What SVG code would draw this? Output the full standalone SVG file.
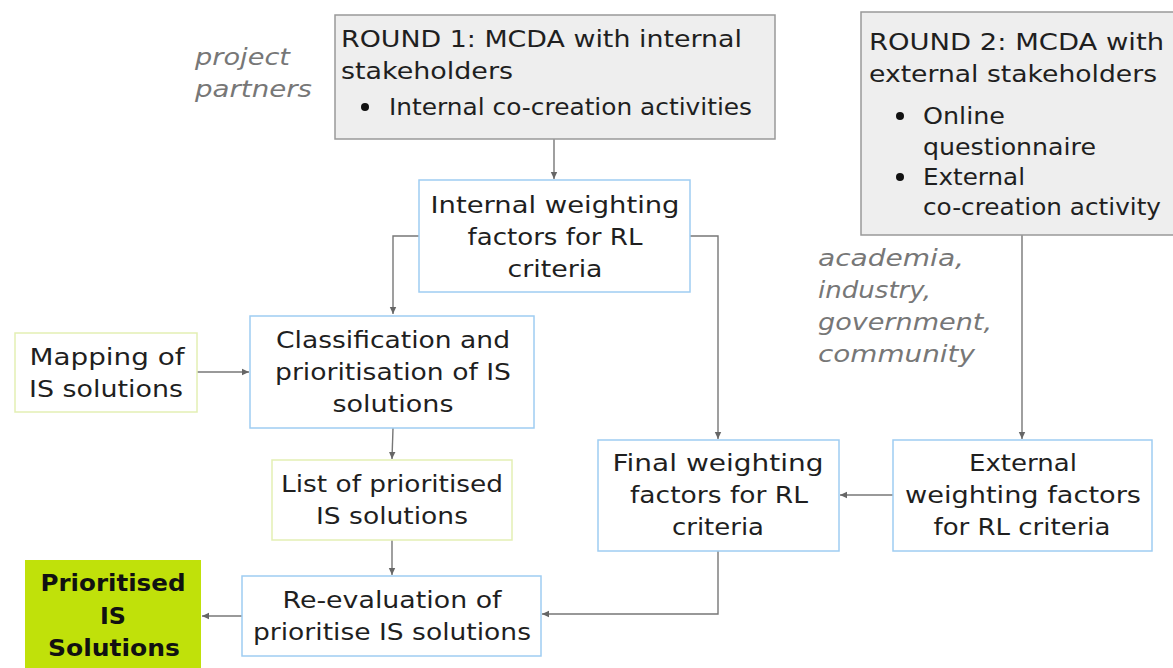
<svg xmlns="http://www.w3.org/2000/svg" width="1173" height="668" viewBox="0 0 1173 668">
<defs>
<marker id="ah" markerWidth="8" markerHeight="8" refX="7" refY="4" orient="auto" markerUnits="userSpaceOnUse">
<path d="M0,0.8 L7,4 L0,7.2 Z" fill="#666"/>
</marker>
<style>
text{font-family:"DejaVu Sans","Liberation Sans",sans-serif;font-size:23.5px;fill:#1f1f1f}
.c{text-anchor:middle}
.it{font-style:italic;fill:#777}
.b{font-weight:bold;fill:#111}
.grey{fill:#eeeeee;stroke:#999;stroke-width:1.5}
.blue{fill:#fff;stroke:#9fcdf2;stroke-width:1.5}
.yg{fill:#fff;stroke:#e3efb4;stroke-width:1.5}
.conn{fill:none;stroke:#777;stroke-width:1.4;marker-end:url(#ah)}
</style>
</defs>
<rect width="1173" height="668" fill="#fff"/>
<g id="label-partners">
<text class="it" x="195" y="65" textLength="95" lengthAdjust="spacingAndGlyphs">project</text>
<text class="it" x="195" y="97" textLength="117" lengthAdjust="spacingAndGlyphs">partners</text>
</g>
<g id="label-external">
<text class="it" x="818" y="266" textLength="146" lengthAdjust="spacingAndGlyphs">academia,</text>
<text class="it" x="818" y="298" textLength="113" lengthAdjust="spacingAndGlyphs">industry,</text>
<text class="it" x="818" y="330" textLength="174" lengthAdjust="spacingAndGlyphs">government,</text>
<text class="it" x="818" y="362" textLength="157" lengthAdjust="spacingAndGlyphs">community</text>
</g>
<g id="connectors">
<path class="conn" d="M554,139 V179"/>
<path class="conn" d="M419,236 H393 V314"/>
<path class="conn" d="M690,236 H718 V439"/>
<path class="conn" d="M197,372 H249"/>
<path class="conn" d="M393,428 L392,459"/>
<path class="conn" d="M392,540 V575"/>
<path class="conn" d="M242,616 H202"/>
<path class="conn" d="M893,495 H840"/>
<path class="conn" d="M1022,235 V439"/>
<path class="conn" d="M718,551 V614 H542"/>
</g>
<g id="round1">
<rect class="grey" x="335" y="15" width="440" height="124"/>
<text x="341" y="47" textLength="401" lengthAdjust="spacingAndGlyphs">ROUND 1: MCDA with internal</text>
<text x="341" y="79" textLength="172" lengthAdjust="spacingAndGlyphs">stakeholders</text>
<circle cx="365" cy="107" r="4" fill="#111"/>
<text x="389" y="115" textLength="363" lengthAdjust="spacingAndGlyphs">Internal co-creation activities</text>
</g>
<g id="round2">
<rect class="grey" x="861" y="12" width="320" height="223"/>
<text x="869" y="50" textLength="295" lengthAdjust="spacingAndGlyphs">ROUND 2: MCDA with</text>
<text x="869" y="82" textLength="288" lengthAdjust="spacingAndGlyphs">external stakeholders</text>
<circle cx="900" cy="116" r="4" fill="#111"/>
<text x="923" y="124" textLength="82" lengthAdjust="spacingAndGlyphs">Online</text>
<text x="923" y="155" textLength="173" lengthAdjust="spacingAndGlyphs">questionnaire</text>
<circle cx="900" cy="177" r="4" fill="#111"/>
<text x="923" y="185" textLength="102" lengthAdjust="spacingAndGlyphs">External</text>
<text x="923" y="215" textLength="238" lengthAdjust="spacingAndGlyphs">co-creation activity</text>
</g>
<g id="internal-weighting">
<rect class="blue" x="419" y="180" width="271" height="112"/>
<text class="c" x="555" y="213" textLength="249" lengthAdjust="spacingAndGlyphs">Internal weighting</text>
<text class="c" x="555" y="245" textLength="175" lengthAdjust="spacingAndGlyphs">factors for RL</text>
<text class="c" x="555" y="277" textLength="95" lengthAdjust="spacingAndGlyphs">criteria</text>
</g>
<g id="classification">
<rect class="blue" x="250" y="316" width="284" height="112"/>
<text class="c" x="393" y="348" textLength="234" lengthAdjust="spacingAndGlyphs">Classification and</text>
<text class="c" x="393" y="380" textLength="236" lengthAdjust="spacingAndGlyphs">prioritisation of IS</text>
<text class="c" x="393" y="412" textLength="121" lengthAdjust="spacingAndGlyphs">solutions</text>
</g>
<g id="mapping">
<rect class="yg" x="15" y="333" width="182" height="79"/>
<text class="c" x="107" y="365" textLength="155" lengthAdjust="spacingAndGlyphs">Mapping of</text>
<text class="c" x="106" y="397" textLength="154" lengthAdjust="spacingAndGlyphs">IS solutions</text>
</g>
<g id="list">
<rect class="yg" x="272" y="460" width="240" height="80"/>
<text class="c" x="392" y="492" textLength="222" lengthAdjust="spacingAndGlyphs">List of prioritised</text>
<text class="c" x="392" y="524" textLength="152" lengthAdjust="spacingAndGlyphs">IS solutions</text>
</g>
<g id="reevaluation">
<rect class="blue" x="242" y="576" width="299" height="80"/>
<text class="c" x="392" y="608" textLength="219" lengthAdjust="spacingAndGlyphs">Re-evaluation of</text>
<text class="c" x="392" y="640" textLength="278" lengthAdjust="spacingAndGlyphs">prioritise IS solutions</text>
</g>
<g id="prioritised">
<rect x="25" y="560" width="176" height="112" fill="#c0e10a"/>
<text class="c b" x="113" y="591" textLength="145" lengthAdjust="spacingAndGlyphs">Prioritised</text>
<text class="c b" x="113" y="624" textLength="26" lengthAdjust="spacingAndGlyphs">IS</text>
<text class="c b" x="114" y="656" textLength="132" lengthAdjust="spacingAndGlyphs">Solutions</text>
</g>
<g id="final-weighting">
<rect class="blue" x="598" y="440" width="241" height="111"/>
<text class="c" x="718" y="471" textLength="211" lengthAdjust="spacingAndGlyphs">Final weighting</text>
<text class="c" x="719" y="503" textLength="178" lengthAdjust="spacingAndGlyphs">factors for RL</text>
<text class="c" x="718" y="535" textLength="92" lengthAdjust="spacingAndGlyphs">criteria</text>
</g>
<g id="external-weighting">
<rect class="blue" x="893" y="440" width="259" height="111"/>
<text class="c" x="1023" y="471" textLength="108" lengthAdjust="spacingAndGlyphs">External</text>
<text class="c" x="1023" y="503" textLength="236" lengthAdjust="spacingAndGlyphs">weighting factors</text>
<text class="c" x="1022" y="535" textLength="177" lengthAdjust="spacingAndGlyphs">for RL criteria</text>
</g>
</svg>
